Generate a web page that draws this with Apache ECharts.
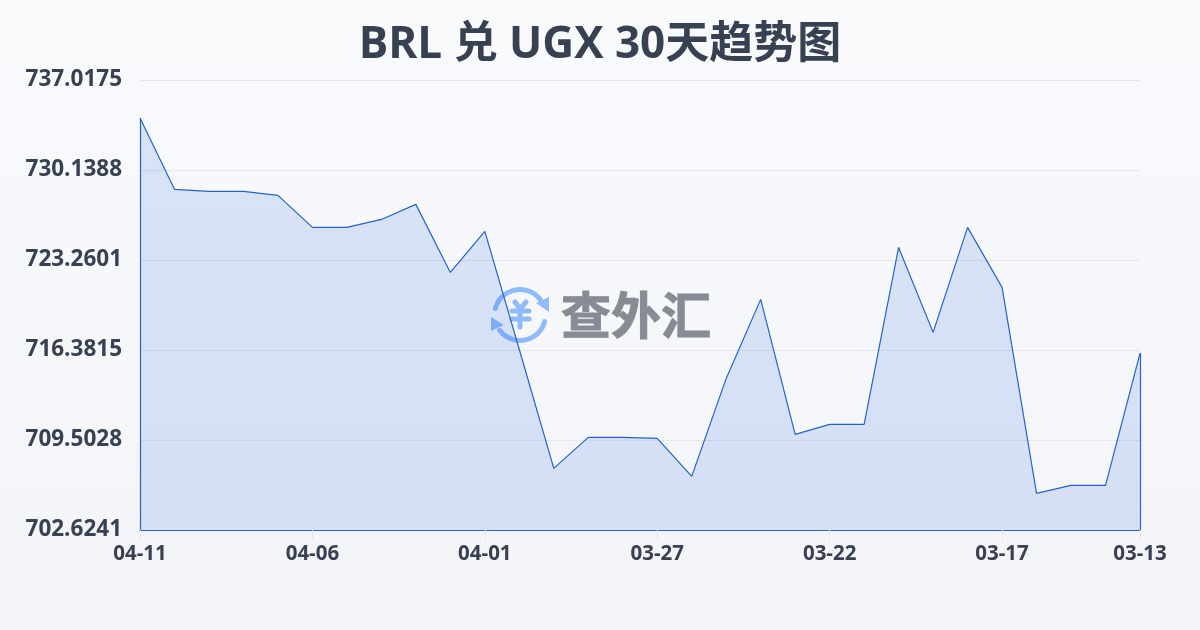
<!DOCTYPE html>
<html><head><meta charset="utf-8">
<style>html,body{margin:0;padding:0;background:#f5f7fa}#c{width:1200px;height:630px}</style>
<script src="https://cdn.jsdelivr.net/npm/echarts@6/dist/echarts.min.js"></script>
</head><body><div id="c"></div>
<script>
const titleText = 'BRL 兑 UGX 30天趋势图';
const watermarkText = '查外汇';
const categories = ['04-11','04-10','04-09','04-08','04-07','04-06','04-05','04-04','04-03','04-02','04-01','03-31','03-30','03-29','03-28','03-27','03-26','03-25','03-24','03-23','03-22','03-21','03-20','03-19','03-18','03-17','03-16','03-15','03-14','03-13'];
const rates = [734.11,728.66,728.50,728.50,728.20,725.75,725.75,726.36,727.51,722.31,725.45,716.42,707.33,709.70,709.70,709.63,706.72,714.21,720.25,709.93,710.70,710.70,724.22,717.73,725.75,721.17,705.42,706.03,706.03,716.13];
const yTicks = [702.6241,709.5028,716.3815,723.2601,730.1388,737.0175];
const shownIndexes = [0,5,10,15,20,25,29];

const lineColor = '#2563c9';
const textColor = '#374151';
const fontFamily = '"Open Sans","Noto Sans CJK SC",sans-serif';
const iconColor = '#90bbfb';
const showTick = i => shownIndexes.includes(i);
const firstCat = categories[0];
const lastCat = categories[categories.length-1];

const chart = echarts.init(document.getElementById('c'), null, {renderer:'canvas'});
const iconLine = points => ({type:'polyline', z:1, shape:{points}, style:{stroke:iconColor, lineWidth:5, lineCap:'round', lineJoin:'round', fill:null}});
const iconArc = (s,e) => ({type:'arc', z:1, shape:{cx:520,cy:315,r:25.5,startAngle:s*Math.PI/180,endAngle:e*Math.PI/180,clockwise:true}, style:{stroke:iconColor, lineWidth:5, lineCap:'round', fill:null}});
const iconTri = points => ({type:'polygon', z:1, shape:{points}, style:{fill:iconColor}});

chart.setOption({
  animation:false,
  backgroundColor:new echarts.graphic.LinearGradient(0,0,0,1,[{offset:0,color:'#f9fafc'},{offset:1,color:'#f3f4f7'}]),
  title:{text:titleText,left:'center',top:18,textStyle:{fontFamily,fontSize:44,fontWeight:'bold',color:'#374151'}},
  grid:{left:140,right:60,top:80,bottom:100,containLabel:false},
  xAxis:{type:'category',boundaryGap:false,data:categories,
    axisLine:{show:true,lineStyle:{color:lineColor,width:1.2}},
    axisTick:{show:true,interval:showTick,length:10,lineStyle:{color:'#e5e7eb',width:1}},
    axisLabel:{show:true,interval:showTick,margin:14,fontFamily,fontSize:20.5,fontWeight:'bold',color:textColor,hideOverlap:false,showMinLabel:true,showMaxLabel:true},
    splitLine:{show:false}},
  yAxis:{type:'value',min:yTicks[0],max:yTicks[yTicks.length-1],
    axisLine:{show:false},
    axisTick:{show:false,customValues:yTicks},
    axisLabel:{show:true,customValues:yTicks,formatter:v=>v.toFixed(4),margin:18,fontFamily,fontSize:22.5,fontWeight:'bold',color:textColor},
    splitLine:{show:true,lineStyle:{color:'#e5e7eb',width:1}}},
  graphic:[
    {type:'text',z:1,style:{text:watermarkText,x:636,y:315,align:'center',verticalAlign:'middle',fontFamily:'"Noto Sans CJK SC",sans-serif',fontSize:50,fontWeight:'bold',fill:'#868b94',stroke:'#868b94',lineWidth:1}},
    iconArc(195,323), iconArc(15,143),
    iconTri([[549,297],[549,312],[536,303]]),
    iconTri([[491,317],[491,331],[504,325]]),
    iconLine([[515,302],[520,309],[526,302]]),
    iconLine([[512,311],[529,311]]),
    iconLine([[512,319],[529,319]]),
    iconLine([[520,309],[520,327]])
  ],
  series:[{type:'line',data:rates,symbol:'none',smooth:false,z:2,
    lineStyle:{color:lineColor,width:1.2},
    areaStyle:{color:'rgba(37,99,228,0.145)',opacity:1},
    markLine:{silent:true,symbol:'none',animation:false,label:{show:false},lineStyle:{color:lineColor,width:1.2,type:'solid'},
      data:[
        [{coord:[firstCat,yTicks[0]]},{coord:[firstCat,rates[0]]}],
        [{coord:[lastCat,yTicks[0]]},{coord:[lastCat,rates[rates.length-1]]}]
      ]}
  }]
});
</script></body></html>
